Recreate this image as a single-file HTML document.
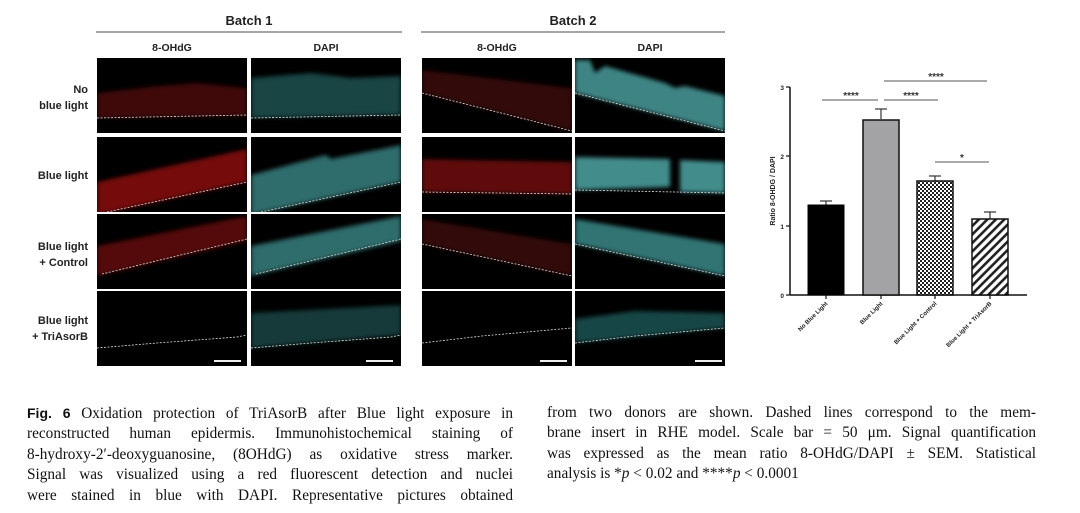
<!DOCTYPE html>
<html><head><meta charset="utf-8"><style>
body{margin:0;background:#fff;width:1080px;height:513px;overflow:hidden;position:relative;font-family:"Liberation Sans",sans-serif}
.cap{position:absolute;font-family:"Liberation Serif",serif;font-size:15.3px;line-height:20.4px;color:#111}
.cap div{text-align:justify;text-align-last:justify;white-space:nowrap;overflow:visible}
.cap div.last{text-align-last:left}
</style></head><body>
<svg width="1080" height="400" style="position:absolute;left:0;top:0" font-family="Liberation Sans, sans-serif">
<defs>
<filter id="bl"><feGaussianBlur stdDeviation="2"/></filter>
<pattern id="chk" width="4" height="4" patternUnits="userSpaceOnUse"><rect width="4" height="4" fill="#fff"/><rect width="2" height="2" fill="#222"/><rect x="2" y="2" width="2" height="2" fill="#222"/></pattern>
<pattern id="hat" width="6" height="6" patternUnits="userSpaceOnUse" patternTransform="rotate(45)"><rect width="6" height="6" fill="#fff"/><rect width="2.6" height="6" fill="#222"/></pattern>
</defs>
<g font-weight="bold" fill="#222" text-anchor="middle">
<text x="249" y="25" font-size="13">Batch 1</text>
<text x="573" y="25" font-size="13">Batch 2</text>
<text x="172" y="51" font-size="10.5">8-OHdG</text>
<text x="326" y="51" font-size="10.5">DAPI</text>
<text x="497" y="51" font-size="10.5">8-OHdG</text>
<text x="650" y="51" font-size="10.5">DAPI</text>
</g>
<line x1="96" y1="32" x2="402" y2="32" stroke="#888" stroke-width="1.5"/>
<line x1="421" y1="32" x2="725" y2="32" stroke="#888" stroke-width="1.5"/>
<g font-weight="bold" fill="#222" text-anchor="end" font-size="11">
<text x="88" y="93">No</text><text x="88" y="109">blue light</text>
<text x="88" y="179">Blue light</text>
<text x="88" y="250">Blue light</text><text x="88" y="266">+ Control</text>
<text x="88" y="324">Blue light</text><text x="88" y="340">+ TriAsorB</text>
</g>
<g>
<svg x="97" y="58" width="150" height="75"><rect width="150" height="75"/><polygon points="0,35 60,28 100,25 150,30 150,58 0,60" fill="#5a0808" opacity=".7" filter="url(#bl)"/><polyline points="0,60 150,57" fill="none" stroke="#ddd" stroke-dasharray="2,1.5" stroke-width=".8"/></svg>
<svg x="251" y="58" width="150" height="75"><rect width="150" height="75"/><polygon points="0,20 60,15 100,20 150,18 150,57 0,60" fill="#225c5c" opacity=".75" filter="url(#bl)"/><polyline points="0,60 150,57" fill="none" stroke="#ddd" stroke-dasharray="2,1.5" stroke-width=".8"/></svg>
<svg x="97" y="137" width="150" height="75"><rect width="150" height="75"/><polygon points="0,45 150,12 150,45 0,78" fill="#8a0e0e" opacity=".85" filter="url(#bl)"/><polyline points="10,75 150,45" fill="none" stroke="#ddd" stroke-dasharray="2,1.5" stroke-width=".8"/></svg>
<svg x="251" y="137" width="150" height="75"><rect width="150" height="75"/><polygon points="0,38 75,18 80,22 150,8 150,45 0,78" fill="#387f7f" opacity=".85" filter="url(#bl)"/><polyline points="10,75 150,45" fill="none" stroke="#ddd" stroke-dasharray="2,1.5" stroke-width=".8"/></svg>
<svg x="97" y="214" width="150" height="75"><rect width="150" height="75"/><polygon points="0,32 150,2 150,27 0,62" fill="#6a0a0a" opacity=".8" filter="url(#bl)"/><polyline points="5,60 150,25" fill="none" stroke="#ddd" stroke-dasharray="2,1.5" stroke-width=".8"/></svg>
<svg x="251" y="214" width="150" height="75"><rect width="150" height="75"/><polygon points="0,32 150,2 150,27 0,62" fill="#387f7f" opacity=".85" filter="url(#bl)"/><polyline points="5,60 150,25" fill="none" stroke="#ddd" stroke-dasharray="2,1.5" stroke-width=".8"/></svg>
<svg x="97" y="291" width="150" height="75"><rect width="150" height="75"/><polyline points="0,57 60,52 140,46 150,44" fill="none" stroke="#ddd" stroke-dasharray="2,1.5" stroke-width=".8"/><line x1="117" y1="70" x2="144" y2="70" stroke="#eee" stroke-width="2"/></svg>
<svg x="251" y="291" width="150" height="75"><rect width="150" height="75"/><polygon points="0,22 150,14 150,44 0,57" fill="#1a4a4a" opacity=".8" filter="url(#bl)"/><polyline points="0,57 60,52 140,46 150,44" fill="none" stroke="#ddd" stroke-dasharray="2,1.5" stroke-width=".8"/><line x1="115" y1="70" x2="142" y2="70" stroke="#eee" stroke-width="2"/></svg>
<svg x="422" y="58" width="150" height="75"><rect width="150" height="75"/><polygon points="0,12 150,30 150,73 0,35" fill="#400707" opacity=".8" filter="url(#bl)"/><polyline points="0,35 150,73" fill="none" stroke="#ddd" stroke-dasharray="2,1.5" stroke-width=".8"/></svg>
<svg x="575" y="58" width="150" height="75"><rect width="150" height="75"/><polygon points="0,2 15,2 20,15 30,8 90,25 100,30 110,28 150,38 150,73 0,35" fill="#428c8c" opacity=".95" filter="url(#bl)"/><polyline points="0,35 150,73" fill="none" stroke="#ddd" stroke-dasharray="2,1.5" stroke-width=".8"/></svg>
<svg x="422" y="137" width="150" height="75"><rect width="150" height="75"/><polygon points="0,22 150,25 150,57 0,55" fill="#6a0a0a" opacity=".9" filter="url(#bl)"/><polyline points="0,55 150,57" fill="none" stroke="#ddd" stroke-dasharray="2,1.5" stroke-width=".8"/></svg>
<svg x="575" y="137" width="150" height="75"><rect width="150" height="75"/><polygon points="0,20 95,22 95,50 0,53" fill="#428c8c" filter="url(#bl)"/><polygon points="105,23 150,25 150,56 105,55" fill="#428c8c" filter="url(#bl)"/><polyline points="0,53 150,56" fill="none" stroke="#ddd" stroke-dasharray="2,1.5" stroke-width=".8"/></svg>
<svg x="422" y="214" width="150" height="75"><rect width="150" height="75"/><polygon points="0,5 150,30 150,62 0,30" fill="#400707" opacity=".8" filter="url(#bl)"/><polyline points="0,30 150,62" fill="none" stroke="#ddd" stroke-dasharray="2,1.5" stroke-width=".8"/></svg>
<svg x="575" y="214" width="150" height="75"><rect width="150" height="75"/><polygon points="0,5 150,30 150,62 0,30" fill="#357a7a" opacity=".95" filter="url(#bl)"/><polyline points="0,30 150,62" fill="none" stroke="#ddd" stroke-dasharray="2,1.5" stroke-width=".8"/></svg>
<svg x="422" y="291" width="150" height="75"><rect width="150" height="75"/><polyline points="0,52 60,45 150,37" fill="none" stroke="#ddd" stroke-dasharray="2,1.5" stroke-width=".8"/><line x1="118" y1="70" x2="145" y2="70" stroke="#eee" stroke-width="2"/></svg>
<svg x="575" y="291" width="150" height="75"><rect width="150" height="75"/><polygon points="0,28 60,20 150,22 150,37 0,52" fill="#1c5252" opacity=".85" filter="url(#bl)"/><polyline points="0,52 60,45 150,37" fill="none" stroke="#ddd" stroke-dasharray="2,1.5" stroke-width=".8"/><line x1="120" y1="70" x2="147" y2="70" stroke="#eee" stroke-width="2"/></svg>
</g>
<g>
<line x1="790" y1="87" x2="790" y2="295" stroke="#111" stroke-width="1.5"/>
<line x1="790" y1="295" x2="1027" y2="295" stroke="#111" stroke-width="1.5"/>
<g stroke="#111" stroke-width="1.2"><line x1="786" y1="87" x2="790" y2="87"/><line x1="786" y1="156" x2="790" y2="156"/><line x1="786" y1="226" x2="790" y2="226"/><line x1="786" y1="295" x2="790" y2="295"/>
<line x1="826" y1="295" x2="826" y2="299"/><line x1="881" y1="295" x2="881" y2="299"/><line x1="935" y1="295" x2="935" y2="299"/><line x1="990" y1="295" x2="990" y2="299"/></g>
<g font-size="6.5" font-weight="bold" fill="#222" text-anchor="end"><text x="784" y="90">3</text><text x="784" y="159">2</text><text x="784" y="229">1</text><text x="784" y="298">0</text></g>
<text transform="translate(775,191) rotate(-90)" font-size="7" font-weight="bold" text-anchor="middle" fill="#222">Ratio 8-OHDG / DAPI</text>
<g stroke="#333" stroke-width="1.2"><line x1="826" y1="205" x2="826" y2="201"/><line x1="820" y1="201" x2="832" y2="201"/>
<line x1="881" y1="119" x2="881" y2="109"/><line x1="875" y1="109" x2="887" y2="109"/>
<line x1="935" y1="181" x2="935" y2="176"/><line x1="929" y1="176" x2="941" y2="176"/>
<line x1="990" y1="219" x2="990" y2="212"/><line x1="984" y1="212" x2="996" y2="212"/></g>
<rect x="808" y="205" width="36" height="90" fill="#000" stroke="#000"/>
<rect x="863" y="120" width="36" height="175" fill="#a3a3a6" stroke="#111" stroke-width="1.5"/>
<rect x="917" y="181" width="36" height="114" fill="url(#chk)" stroke="#111" stroke-width="1.5"/>
<rect x="972" y="219" width="36" height="76" fill="url(#hat)" stroke="#111" stroke-width="1.5"/>
<g stroke="#555" stroke-width="1"><line x1="822" y1="100" x2="878" y2="100"/><line x1="884" y1="100" x2="938" y2="100"/><line x1="884" y1="81" x2="987" y2="81"/><line x1="935" y1="162" x2="989" y2="162"/></g>
<g font-size="10" font-weight="bold" fill="#333" text-anchor="middle"><text x="851" y="99">****</text><text x="911" y="99">****</text><text x="936" y="80">****</text><text x="962" y="161">*</text></g>
<g font-size="6" font-weight="bold" fill="#222" text-anchor="end">
<text transform="translate(828,304) rotate(-45)">No Blue Light</text>
<text transform="translate(883,304) rotate(-45)">Blue Light</text>
<text transform="translate(937,304) rotate(-45)">Blue Light + Control</text>
<text transform="translate(992,304) rotate(-45)">Blue Light + TriAsorB</text>
</g>
</g>
</svg>
<div class="cap" style="left:27px;top:403px;width:486px">
<div><b style="font-family:'Liberation Sans',sans-serif;font-size:14px">Fig. 6</b> Oxidation protection of TriAsorB after Blue light exposure in</div>
<div>reconstructed human epidermis. Immunohistochemical staining of</div>
<div>8-hydroxy-2′-deoxyguanosine, (8OHdG) as oxidative stress marker.</div>
<div>Signal was visualized using a red fluorescent detection and nuclei</div>
<div>were stained in blue with DAPI. Representative pictures obtained</div>
</div>
<div class="cap" style="left:547px;top:403px;width:489px">
<div>from two donors are shown. Dashed lines correspond to the mem-</div>
<div>brane insert in RHE model. Scale bar = 50 μm. Signal quantification</div>
<div>was expressed as the mean ratio 8-OHdG/DAPI ± SEM. Statistical</div>
<div class="last">analysis is *<i>p</i> &lt; 0.02 and ****<i>p</i> &lt; 0.0001</div>
</div>
</body></html>
